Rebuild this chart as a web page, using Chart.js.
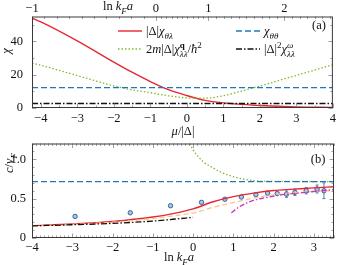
<!DOCTYPE html>
<html>
<head>
<meta charset="utf-8">
<script src="https://cdn.jsdelivr.net/npm/chart.js@4.4.1/dist/chart.umd.min.js"></script>
<style>
  body { margin: 0; background: #fff; }
  #wrap { position: relative; width: 339px; height: 265px; overflow: hidden; }
  #wrap canvas { position: absolute; left: 0; }
</style>
</head>
<body>
<div id="wrap">
  <canvas id="chartA" width="339" height="140" style="top:0"></canvas>
  <canvas id="chartB" width="339" height="135" style="top:130px"></canvas>
</div>
<script>
// ---- panel (a): susceptibilities vs mu/|Delta| ----
const muA = [-4.24, -4, -3, -2, -1.5, -1, -0.5, 0, 0.5, 1, 1.5, 2, 3, 4];
const chiThetaLambda = [54, 51.8, 40.4, 27.6, 21.5, 15.9, 11.0, 7.5, 4.6, 3.1, 2.2, 1.5, 0.7, 0.4];
const chiLambdaQ = [27, 25.7, 19.5, 13.3, 10.9, 9.2, 7.3, 6.1, 5.9, 7.4, 10.2, 13.2, 19.6, 26];
const muEnds = [-4.24, 4];
const chiThetaTheta = [12.2, 12.2];
const chiLambdaOmega = [2.7, 2.7];

const muTicks = [-4, -3, -2, -1, 0, 1, 2, 3, 4];
const chiTicks = [0, 20, 40];
// ln kF a on the top axis, put at the mu it corresponds to
const lnTopVals = [-1, 0, 1, 2];
const lnTopLabels = ['−1', '0', '1', '2'];
const lnTopMu = [-4.24, -0.845, 0.59, 2.67];

// ---- panel (b): sound speed vs ln kF a ----
const lnB = [-4, -3, -2, -1, -0.5, 0, 0.5, 1, 1.5, 2, 2.5, 3, 3.5];
const cRed = [0.157, 0.178, 0.21, 0.266, 0.31, 0.37, 0.46, 0.525, 0.57, 0.603, 0.62, 0.637, 0.65];
const lnOrange = [-4, -3, -2, -1, -0.5, 0, 0.5, 1, 1.5, 2, 2.5, 3, 3.4];
const cOrange = [0.153, 0.172, 0.2, 0.247, 0.28, 0.316, 0.39, 0.45, 0.506, 0.548, 0.575, 0.592, 0.6];
const lnBlack = [-4, -3, -2, -1, -0.5, 0];
const cBlack = [0.155, 0.168, 0.186, 0.215, 0.238, 0.262];
const lnMagenta = [0.95, 1.1, 1.32, 1.5, 1.74, 2.15, 2.73, 3.5];
const cMagenta = [0.32, 0.38, 0.443, 0.478, 0.506, 0.544, 0.577, 0.615];
const lnGreen = [-0.08, 0, 0.25, 0.5, 0.66, 1.08, 1.49, 2, 2.5, 3, 3.5];
const cGreen = [1.2, 1.12, 0.97, 0.89, 0.843, 0.767, 0.729, 0.72, 0.718, 0.717, 0.716];
const lnEnds = [-4, 3.5];
const cBlue = [0.716, 0.716];
// QMC-like points with error bars
const lnPts = [-2.93, -1.56, -0.56, 0.21, 0.79, 1.2, 1.56, 1.85, 2.09, 2.32, 2.53, 2.81, 3.08, 3.25];
const cPts = [0.274, 0.32, 0.41, 0.453, 0.492, 0.52, 0.55, 0.57, 0.565, 0.557, 0.58, 0.6, 0.622, 0.6];
const cErr = [0.012, 0.01, 0.01, 0.01, 0.01, 0.01, 0.012, 0.012, 0.015, 0.04, 0.04, 0.04, 0.05, 0.1];

const lnTicksB = [-4, -3, -2, -1, 0, 1, 2, 3];
const cTicks = [0, 0.5, 1];

const RED = '#e8262f', BLUE = '#1f78bd', GREEN = '#80b932', ORANGE = '#fdc58a', MAGENTA = '#c535c0';
const FONT = '"Liberation Serif", "DejaVu Serif", serif';
const BIG = 12.5, SMALL = 9;

function xy(xs, ys) { return xs.map((x, i) => ({ x: x, y: ys[i] })); }
function range(a, b, step) {
  const out = [];
  for (let v = a; v <= b + 1e-9; v += step) out.push(Math.round(v * 1000) / 1000);
  return out;
}
function minus(v) { return String(v).replace('-', '−'); }

// top axis of (a): ln kF a -> mu, piecewise from the labelled points
function lnToMu(L) {
  let i = 0;
  while (i < lnTopVals.length - 2 && L > lnTopVals[i + 1]) i++;
  const t = (L - lnTopVals[i]) / (lnTopVals[i + 1] - lnTopVals[i]);
  return lnTopMu[i] + t * (lnTopMu[i + 1] - lnTopMu[i]);
}

// rich text: parts {t, i (italic), b (bold), v (1 sub, -1 sup), stack (same x as previous)}
function drawRich(ctx, parts, x, y, align) {
  const items = [];
  let cx = 0, lastStart = 0;
  parts.forEach(p => {
    const size = p.v ? SMALL : BIG;
    ctx.font = (p.i ? 'italic ' : '') + (p.b ? 'bold ' : '') + size + 'px ' + FONT;
    const w = ctx.measureText(p.t).width;
    const start = p.stack ? lastStart : cx;
    items.push({ p: p, size: size, x: start });
    lastStart = start;
    cx = Math.max(cx, start + w);
  });
  const x0 = align === 'center' ? x - cx / 2 : (align === 'right' ? x - cx : x);
  ctx.fillStyle = '#111';
  ctx.textBaseline = 'alphabetic';
  ctx.textAlign = 'left';
  items.forEach(it => {
    const p = it.p;
    ctx.font = (p.i ? 'italic ' : '') + (p.b ? 'bold ' : '') + it.size + 'px ' + FONT;
    const dy = p.v === 1 ? 3.5 : (p.v === -1 ? -5 : 0);
    ctx.fillText(p.t, x0 + it.x, y + dy);
  });
}

const frameTicks = {
  id: 'frameTicks',
  beforeDatasetDraw(chart, args) {
    const ds = chart.data.datasets[args.index];
    if (!ds.yErr) return;
    const ctx = chart.ctx, sx = chart.scales.x, sy = chart.scales.y;
    ctx.save();
    ctx.strokeStyle = '#4f7fb0';
    ctx.lineWidth = 1;
    ds.data.forEach((d, i) => {
      const px = sx.getPixelForValue(d.x);
      const y1 = sy.getPixelForValue(d.y - ds.yErr[i]), y2 = sy.getPixelForValue(d.y + ds.yErr[i]);
      ctx.beginPath();
      ctx.moveTo(px, y1); ctx.lineTo(px, y2);
      ctx.moveTo(px - 1.5, y1); ctx.lineTo(px + 1.5, y1);
      ctx.moveTo(px - 1.5, y2); ctx.lineTo(px + 1.5, y2);
      ctx.stroke();
    });
    ctx.restore();
  },
  afterDraw(chart, args, o) {
    const ctx = chart.ctx, a = chart.chartArea;
    ctx.save();
    ctx.strokeStyle = '#8a8a8a';
    ctx.lineWidth = 0.8;
    Object.keys(o.sides || {}).forEach(side => {
      const s = o.sides[side], sc = chart.scales[s.scale];
      const draw = (vals, len) => vals.forEach(v => {
        const p = Math.round(sc.getPixelForValue(v)) + 0.5;
        ctx.beginPath();
        if (side === 'bottom') { ctx.moveTo(p, a.bottom); ctx.lineTo(p, a.bottom - len); }
        if (side === 'top') { ctx.moveTo(p, a.top); ctx.lineTo(p, a.top + len); }
        if (side === 'left') { ctx.moveTo(a.left, p); ctx.lineTo(a.left + len, p); }
        if (side === 'right') { ctx.moveTo(a.right, p); ctx.lineTo(a.right - len, p); }
        ctx.stroke();
      });
      draw(s.major, 4.5);
      draw(s.minor, 2.5);
    });
    ctx.strokeStyle = '#3a3a3a';
    ctx.lineWidth = 1;
    ctx.strokeRect(a.left + 0.5, a.top + 0.5, a.right - a.left - 1, a.bottom - a.top - 1);

    // legend rows (sample line taken from the dataset style)
    (o.legend || []).forEach(l => {
      const ds = chart.data.datasets[l.ds];
      ctx.save();
      ctx.strokeStyle = ds.borderColor;
      ctx.lineWidth = ds.borderWidth;
      ctx.setLineDash(ds.borderDash || []);
      ctx.beginPath();
      ctx.moveTo(l.x, l.y); ctx.lineTo(l.x + 24, l.y);
      ctx.stroke();
      ctx.restore();
      drawRich(ctx, l.parts, l.x + 28, l.y + 4, 'left');
    });
    // titles and labels
    (o.texts || []).forEach(t => {
      if (t.rot) {
        ctx.save();
        ctx.translate(t.x, t.y);
        ctx.rotate(-Math.PI / 2);
        drawRich(ctx, t.parts, 0, 0, 'center');
        ctx.restore();
      } else {
        drawRich(ctx, t.parts, t.x, t.y, t.align || 'center');
      }
    });
    ctx.restore();
  }
};

function lineSet(data, color, dash, width) {
  return {
    data: data, showLine: true, borderColor: color, backgroundColor: color,
    borderWidth: width || 1.3, borderDash: dash, pointRadius: 0,
    cubicInterpolationMode: 'monotone', fill: false
  };
}
const tickFont = { family: FONT, size: BIG };

// ---------- chart (a) ----------
new Chart(document.getElementById('chartA'), {
  type: 'scatter',
  plugins: [frameTicks],
  data: {
    datasets: [
      lineSet(xy(muEnds, chiLambdaOmega), '#111', [6, 2, 1.5, 2]),
      lineSet(xy(muEnds, chiThetaTheta), BLUE, [6, 3]),
      lineSet(xy(muA, chiLambdaQ), GREEN, [1.5, 2]),
      lineSet(xy(muA, chiThetaLambda), RED, [], 1.4)
    ]
  },
  options: {
    responsive: false,
    animation: false,
    layout: { padding: { right: 5, top: 0, left: 0, bottom: 0 } },
    scales: {
      x: {
        type: 'linear', position: 'bottom', min: -4.24, max: 4,
        grid: { display: false, drawTicks: false }, border: { display: false },
        afterBuildTicks: s => { s.ticks = muTicks.map(v => ({ value: v })); },
        afterFit: s => { s.height = 32; },
        ticks: { font: tickFont, color: '#111', padding: 3, maxRotation: 0, autoSkip: false, callback: v => minus(v) }
      },
      xTop: {
        type: 'linear', position: 'top', min: -4.24, max: 4,
        grid: { display: false, drawTicks: false }, border: { display: false },
        afterBuildTicks: s => { s.ticks = lnTopMu.map(v => ({ value: v })); },
        afterFit: s => { s.height = 14; },
        ticks: { font: tickFont, color: '#111', padding: 0, maxRotation: 0, autoSkip: false, callback: (v, i) => lnTopLabels[i] }
      },
      y: {
        type: 'linear', min: 0, max: 55,
        grid: { display: false, drawTicks: false }, border: { display: false },
        afterBuildTicks: s => { s.ticks = chiTicks.map(v => ({ value: v })); },
        afterFit: s => { s.width = 32; },
        ticks: { font: tickFont, color: '#111', padding: 9, autoSkip: false }
      }
    },
    plugins: {
      legend: { display: false },
      tooltip: { enabled: false },
      frameTicks: {
        sides: {
          bottom: { scale: 'x', major: muTicks, minor: range(-4, 3.5, 0.5).filter(v => v % 1 !== 0) },
          top: { scale: 'xTop', major: lnTopMu, minor: range(-0.9, 2.6, 0.1).filter(v => Math.abs(v - Math.round(v)) > 1e-6).map(lnToMu) },
          left: { scale: 'y', major: chiTicks, minor: [10, 30, 50] },
          right: { scale: 'y', major: chiTicks, minor: [10, 30, 50] }
        },
        legend: [
          { ds: 3, x: 118, y: 31, parts: [{ t: '|Δ|' }, { t: 'χ', i: 1 }, { t: 'θλ', i: 1, v: 1 }] },
          { ds: 1, x: 236, y: 31, parts: [{ t: 'χ', i: 1 }, { t: 'θθ', i: 1, v: 1 }] },
          { ds: 2, x: 118, y: 49, parts: [{ t: '2' }, { t: 'm', i: 1 }, { t: '|Δ|' }, { t: 'χ', i: 1 },
            { t: 'q', b: 1, v: -1 }, { t: 'λλ', i: 1, v: 1, stack: 1 }, { t: '/' }, { t: 'ħ', i: 1 }, { t: '2', v: -1 }] },
          { ds: 0, x: 236, y: 49, parts: [{ t: '|Δ|' }, { t: '2', v: -1 }, { t: 'χ', i: 1 },
            { t: 'ω', i: 1, v: -1 }, { t: 'λλ', i: 1, v: 1, stack: 1 }] }
        ],
        texts: [
          { x: 118, y: 10, parts: [{ t: 'ln ' }, { t: 'k', i: 1 }, { t: 'F', i: 1, v: 1 }, { t: 'a', i: 1 }] },
          { x: 183, y: 135, parts: [{ t: 'μ', i: 1 }, { t: '/|Δ|' }] },
          { x: 319, y: 29, parts: [{ t: '(a)' }] },
          { x: 10, y: 51, rot: 1, parts: [{ t: 'χ', i: 1 }] }
        ]
      }
    }
  }
});

// ---------- chart (b) ----------
const ptsSet = {
  data: xy(lnPts, cPts), yErr: cErr, showLine: false,
  pointRadius: 2.2, pointBorderWidth: 1, pointBackgroundColor: '#a9c6e4', pointBorderColor: '#37629a'
};
new Chart(document.getElementById('chartB'), {
  type: 'scatter',
  plugins: [frameTicks],
  data: {
    datasets: [
      lineSet(xy(lnEnds, cBlue), BLUE, [6, 3]),
      lineSet(xy(lnGreen, cGreen), GREEN, [1.5, 2]),
      lineSet(xy(lnBlack, cBlack), '#111', [6, 2, 1.5, 2]),
      lineSet(xy(lnMagenta, cMagenta), MAGENTA, [5, 2, 1.5, 2]),
      lineSet(xy(lnOrange, cOrange), ORANGE, [5, 3]),
      lineSet(xy(lnB, cRed), RED, [], 1.4),
      ptsSet
    ]
  },
  options: {
    responsive: false,
    animation: false,
    layout: { padding: { right: 5, top: 13, left: 0, bottom: 0 } },
    scales: {
      x: {
        type: 'linear', position: 'bottom', min: -4, max: 3.5,
        grid: { display: false, drawTicks: false }, border: { display: false },
        afterBuildTicks: s => { s.ticks = lnTicksB.map(v => ({ value: v })); },
        afterFit: s => { s.height = 27; },
        ticks: { font: tickFont, color: '#111', padding: 2, maxRotation: 0, autoSkip: false, callback: v => minus(v) }
      },
      y: {
        type: 'linear', min: 0, max: 1.2,
        grid: { display: false, drawTicks: false }, border: { display: false },
        afterBuildTicks: s => { s.ticks = cTicks.map(v => ({ value: v })); },
        afterFit: s => { s.width = 32; },
        ticks: { font: tickFont, color: '#111', padding: 6, autoSkip: false }
      }
    },
    plugins: {
      legend: { display: false },
      tooltip: { enabled: false },
      frameTicks: {
        sides: {
          bottom: { scale: 'x', major: lnTicksB, minor: range(-3.9, 3.5, 0.1).filter(v => Math.abs(v - Math.round(v)) > 1e-6) },
          top: { scale: 'x', major: lnTicksB, minor: range(-3.9, 3.5, 0.1).filter(v => Math.abs(v - Math.round(v)) > 1e-6) },
          left: { scale: 'y', major: cTicks, minor: range(0.1, 1.2, 0.1).filter(v => Math.abs(v * 2 - Math.round(v * 2)) > 1e-6) },
          right: { scale: 'y', major: cTicks, minor: range(0.1, 1.2, 0.1).filter(v => Math.abs(v * 2 - Math.round(v * 2)) > 1e-6) }
        },
        texts: [
          { x: 179, y: 131, parts: [{ t: 'ln ' }, { t: 'k', i: 1 }, { t: 'F', i: 1, v: 1 }, { t: 'a', i: 1 }] },
          { x: 318, y: 33, parts: [{ t: '(b)' }] },
          { x: 13, y: 33, rot: 1, parts: [{ t: 'c', i: 1 }, { t: '/' }, { t: 'v', i: 1 }, { t: 'F', i: 1, v: 1 }] }
        ]
      }
    }
  }
});
</script>
</body>
</html>
